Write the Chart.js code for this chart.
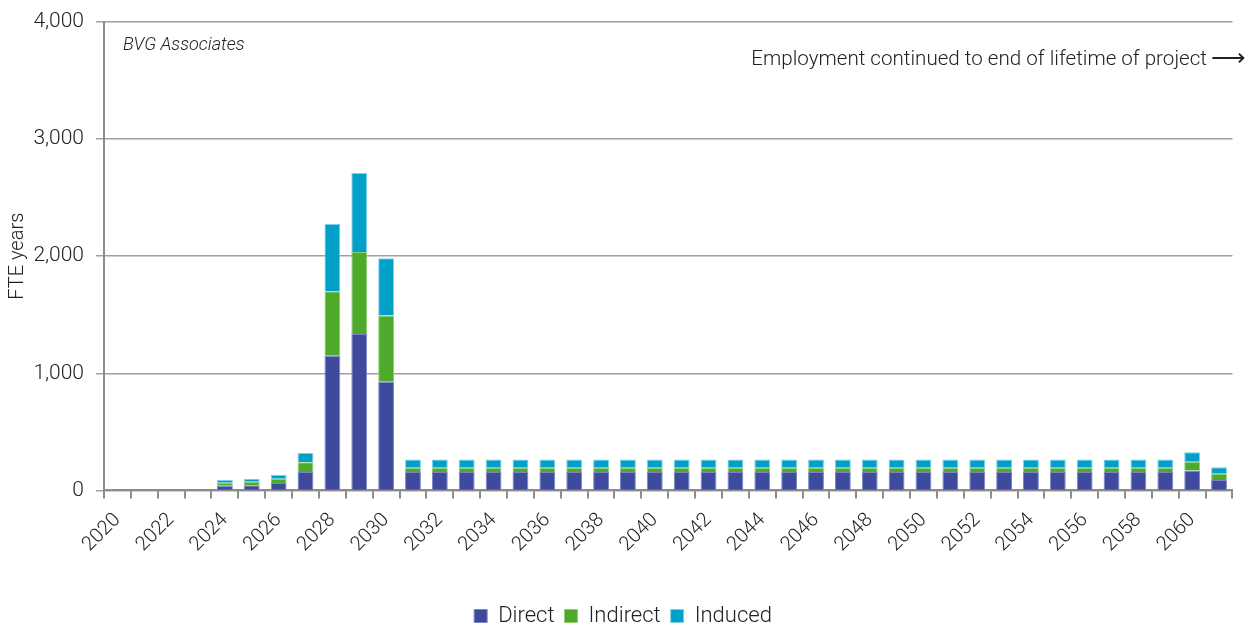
<!DOCTYPE html>
<html>
<head>
<meta charset="utf-8">
<script src="https://cdn.jsdelivr.net/npm/chart.js@4/dist/chart.umd.min.js"></script>
<style>
  html, body { margin: 0; padding: 0; background: #fff; }
  #wrap { width: 1246px; height: 628px; position: relative; }
</style>
</head>
<body>
<div id="wrap"><canvas id="fteChart"></canvas></div>
<script>
// ========== data ==========
const years = [
    '2020','2021','2022','2023','2024','2025','2026','2027','2028','2029',
    '2030','2031','2032','2033','2034','2035','2036','2037','2038','2039',
    '2040','2041','2042','2043','2044','2045','2046','2047','2048','2049',
    '2050','2051','2052','2053','2054','2055','2056','2057','2058','2059',
    '2060','2061'
];
const direct = [
    0, 0, 0, 0, 40, 45, 63, 157, 1150, 1335,
    928, 158, 158, 158, 158, 158, 158, 158, 158, 158,
    158, 158, 158, 158, 158, 158, 158, 158, 158, 158,
    158, 158, 158, 158, 158, 158, 158, 158, 158, 158,
    170, 88
];
const indirect = [
    0, 0, 0, 0, 26, 29, 37, 83, 550, 700,
    565, 35, 35, 35, 35, 35, 35, 35, 35, 35,
    35, 35, 35, 35, 35, 35, 35, 35, 35, 35,
    35, 35, 35, 35, 35, 35, 35, 35, 35, 35,
    75, 55
];
const induced = [
    0, 0, 0, 0, 22, 26, 34, 80, 575, 675,
    490, 70, 70, 70, 70, 70, 70, 70, 70, 70,
    70, 70, 70, 70, 70, 70, 70, 70, 70, 70,
    70, 70, 70, 70, 70, 70, 70, 70, 70, 70,
    80, 55
];
const yTicks = [0, 1000, 2000, 3000, 4000];

const FONT = 'Roboto, "Liberation Sans", sans-serif';
const TEXT = '#222222';
const AXIS = '#8c8c8c';

// 图上的两段说明文字
const notesPlugin = {
    id: 'notes',
    afterDraw(chart) {
        const ctx = chart.ctx;
        ctx.save();
        ctx.fillStyle = TEXT;
        ctx.textBaseline = 'middle';
        ctx.font = 'italic 300 18px ' + FONT;
        ctx.textAlign = 'left';
        ctx.fillText('BVG Associates', 123, 45);
        ctx.font = '300 20.6px ' + FONT;
        ctx.textAlign = 'right';
        ctx.fillText('Employment continued to end of lifetime of project', 1207, 60);
        ctx.textAlign = 'left';
        ctx.font = '300 24px "DejaVu Sans", sans-serif';
        ctx.fillText('\u27F6', 1211, 60);
        ctx.restore();
    }
};

const ctx = document.getElementById('fteChart').getContext('2d');
new Chart(ctx, {
    type: 'bar',
    data: {
        labels: years,
        datasets: [{
            label: 'Direct',
            data: direct,
            backgroundColor: '#3d4a9e',
            borderColor: '#7c85c2',
            borderWidth: 1
        }, {
            label: 'Indirect',
            data: indirect,
            backgroundColor: '#4eaa2a',
            borderColor: '#8fcc78',
            borderWidth: 1
        }, {
            label: 'Induced',
            data: induced,
            backgroundColor: '#00a0c8',
            borderColor: '#7fd0e4',
            borderWidth: 1
        }]
    },
    options: {
        responsive: true,
        maintainAspectRatio: false,
        animation: false,
        layout: { padding: { top: 22, right: 0, left: 0, bottom: -9 } },
        datasets: { bar: { categoryPercentage: 1, barPercentage: 0.59 } },
        scales: {
            x: {
                stacked: true,
                grid: { offset: true, drawOnChartArea: false, color: AXIS, lineWidth: 2, tickLength: 8 },
                border: { color: AXIS, width: 2 },
                ticks: {
                    autoSkip: false,
                    maxRotation: 45,
                    minRotation: 45,
                    padding: 10,
                    color: TEXT,
                    font: { family: FONT, size: 20, weight: '300' },
                    callback: function(v, i) { return i % 2 === 0 ? years[i] : ''; }
                },
                afterFit(scale) { scale.height = 104.6; }
            },
            y: {
                stacked: true,
                min: 0,
                max: 4000,
                afterBuildTicks(scale) { scale.ticks = yTicks.map(v => ({ value: v })); },
                grid: { color: '#a0a0a0', lineWidth: 1.5, tickLength: 8 },
                border: { color: AXIS, width: 2 },
                ticks: {
                    color: TEXT,
                    padding: 12,
                    font: { family: FONT, size: 21, weight: '300' },
                    callback: v => v.toLocaleString('en-US')
                },
                title: {
                    display: true,
                    text: 'FTE years',
                    color: TEXT,
                    padding: { top: 6, bottom: 0 },
                    font: { family: FONT, size: 20, weight: '300' }
                },
                afterFit(scale) {
                    scale.width = 104;
                    scale.paddingTop = 0;   // 顶部留白交给 layout.padding
                }
            }
        },
        plugins: {
            legend: {
                position: 'bottom',
                labels: {
                    color: TEXT,
                    boxWidth: 13,
                    boxHeight: 13,
                    padding: 10,
                    font: { family: FONT, size: 22, weight: '300' }
                }
            },
            tooltip: { enabled: false }
        }
    },
    plugins: [notesPlugin]
});
</script>
</body>
</html>
